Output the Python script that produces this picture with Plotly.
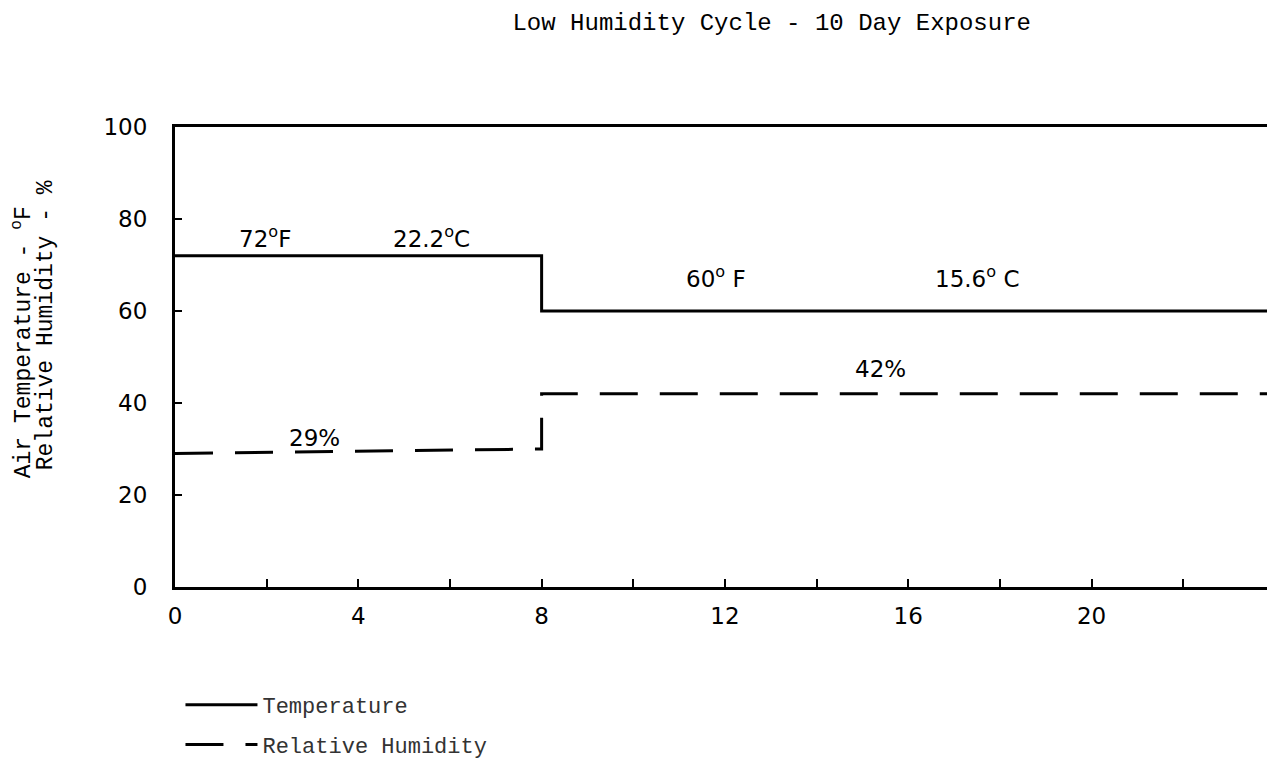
import plotly.graph_objects as go

# time in days, step profile of the cycle
temp_x = [0, 8, 8, 24]
temp_y = [72, 72, 60, 60]
rh_x = [0, 8, 8, 24]
rh_y = [29, 30, 42, 42]

x_ticks = [0, 4, 8, 12, 16, 20, 24]
y_ticks = [0, 20, 40, 60, 80, 100]

# text labels on the chart: (x, y, text)
labels = [
    (1.96, 76.0, "72<sup>o</sup>F"),
    (5.6, 76.0, "22.2<sup>o</sup>C"),
    (11.8, 67.5, "60<sup>o</sup> F"),
    (17.5, 67.5, "15.6<sup>o</sup> C"),
    (15.4, 47.4, "42%"),
    (3.05, 32.5, "29%"),
]

mono = "Liberation Mono, DejaVu Sans Mono, monospace"

fig = go.Figure()
fig.add_trace(go.Scatter(x=temp_x, y=temp_y, mode="lines", name="Temperature",
                         legendgroup="t", line=dict(color="black", width=3)))
fig.add_trace(go.Scatter(x=rh_x, y=rh_y, mode="lines", name="Relative Humidity",
                         legendgroup="h", line=dict(color="black", width=3, dash="38px,22px")))

for lx, ly, txt in labels:
    fig.add_annotation(x=lx, y=ly, text=txt, showarrow=False,
                       font=dict(family="DejaVu Sans", size=23, color="black"))

# rotated two-line axis title, drawn as two annotations for tight line spacing
fig.add_annotation(x=-0.1396, y=0.533, xref="paper", yref="paper", text="Air Temperature - <sup>o</sup>F",
                   textangle=-90, showarrow=False, xanchor="center", yanchor="middle",
                   font=dict(family=mono, size=23, color="black"))
fig.add_annotation(x=-0.1185, y=0.57, xref="paper", yref="paper", text="Relative Humidity - %",
                   textangle=-90, showarrow=False, xanchor="center", yanchor="middle",
                   font=dict(family=mono, size=23, color="black"))

fig.update_layout(
    width=1275, height=761,
    plot_bgcolor="white", paper_bgcolor="white",
    margin=dict(l=167, r=15, t=119, b=182, autoexpand=False),
    title=dict(text="Low Humidity Cycle - 10 Day Exposure", x=0.599, xanchor="center",
               y=0.993, yanchor="top",
               font=dict(family=mono, size=24, color="black")),
    showlegend=True,
    legend=dict(x=0.005, y=-0.211, xanchor="left", yanchor="top",
                font=dict(family=mono, size=22, color="#333"),
                tracegroupgap=8, itemwidth=72, bgcolor="rgba(0,0,0,0)"),
)
fig.update_xaxes(range=[0, 23.85], tickvals=x_ticks, ticks="inside", ticklen=8,
                 tickwidth=2, tickcolor="black", ticklabelstandoff=6,
                 minor=dict(dtick=2, ticks="inside", ticklen=8, tickwidth=2, tickcolor="black"),
                 showline=True, linecolor="black", linewidth=3, mirror=True,
                 showgrid=False, zeroline=False, automargin=False,
                 tickfont=dict(family="DejaVu Sans", size=23, color="black"))
fig.update_yaxes(range=[0, 100], tickvals=y_ticks, ticks="inside", ticklen=7,
                 tickwidth=2, tickcolor="black",
                 showline=True, linecolor="black", linewidth=3,
                 showgrid=False, zeroline=False, ticklabelstandoff=20, automargin=False,
                 tickfont=dict(family="DejaVu Sans", size=23, color="black"))

fig.write_html("out.html")
